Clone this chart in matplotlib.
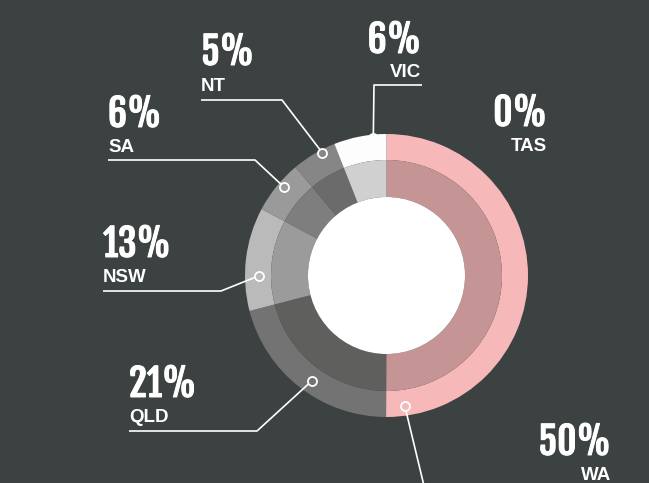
import numpy as np
import matplotlib
matplotlib.use("Agg")
import matplotlib.pyplot as plt
import matplotlib.patheffects as pe

# data, clockwise from the top
regions = ["WA", "QLD", "NSW", "SA", "NT", "VIC", "TAS"]
shares = [50.0, 20.9, 11.8, 6.1, 5.1, 6.0, 0.0]
pct_labels = ["50%", "21%", "13%", "6%", "5%", "6%", "0%"]

outer_colors = ["#f6b8b8", "#737373", "#bababa", "#9a9a9a", "#868686", "#fdfdfd", "#fdfdfd"]
inner_colors = ["#c59494", "#5f5f5d", "#9b9b9b", "#7e7e7e", "#6b6b6b", "#d0d0d0", "#d0d0d0"]

BG = "#3c4142"
W, H = 649, 483
CX, CY = 386.5, H - 275.5
R_OUT, R_MID, R_IN = 141.5, 115.5, 78.5

# label layout in image pixels (y measured from the top)
# marker angle, marker radius, leader points, text x, ha, number baseline, name baseline
layout = {
    "WA": (278, 132, [(425, 490)], 611, "right", 455, 480),
    "QLD": (234.7, 129, [(257, 431), (129, 431)], 129, "left", 397, 422),
    "NSW": (180.2, 128, [(221, 291), (103, 291)], 103, "left", 257, 282),
    "SA": (139.2, 136, [(255, 160), (108, 160)], 108, "left", 127, 152),
    "NT": (117.6, 138.5, [(282, 100), (201, 100)], 201, "left", 65, 91),
    "VIC": (95.5, 138, [(374, 85), (422, 85)], 421, "right", 53, 77),
    "TAS": (None, None, [], 547, "right", 126, 151),
}

fig = plt.figure(figsize=(W / 100, H / 100), dpi=100, facecolor=BG)
ax = fig.add_axes([0, 0, 1, 1])
ax.set_facecolor(BG)

ax.pie(shares, radius=R_OUT, center=(CX, CY), startangle=90, counterclock=False,
       colors=outer_colors, normalize=True,
       wedgeprops=dict(width=R_OUT - R_MID, linewidth=0))
ax.pie(shares, radius=R_MID, center=(CX, CY), startangle=90, counterclock=False,
       colors=inner_colors, normalize=True,
       wedgeprops=dict(width=R_MID - R_IN, linewidth=0))
ax.add_patch(plt.Circle((CX, CY), R_IN, color="white", lw=0))

num_font = ["Fjalla One", "Oswald", "DejaVu Sans"]
name_font = ["Liberation Sans", "DejaVu Sans"]
thicken = [pe.withStroke(linewidth=0.7, foreground="white")]

for i, reg in enumerate(regions):
    ang, rad, pts, tx, ha, nb, lb = layout[reg]
    if ang is not None:
        mx = CX + rad * np.cos(np.radians(ang))
        my = CY + rad * np.sin(np.radians(ang))
        xs = [mx] + [p[0] for p in pts]
        ys = [my] + [H - p[1] for p in pts]
        ax.plot(xs, ys, color="white", lw=1.2, solid_capstyle="butt", zorder=3)
        ax.plot(mx, my, "o", ms=6.5, mfc=outer_colors[i], mec="white", mew=1.3, zorder=4)
    ax.text(tx, H - nb, pct_labels[i], ha=ha, va="baseline", color="white",
            fontsize=27, family=num_font, path_effects=thicken)
    ax.text(tx, H - lb, reg, ha=ha, va="baseline", color="white",
            fontsize=13.5, fontweight="bold", family=name_font)

ax.set_xlim(0, W)
ax.set_ylim(0, H)
ax.set_aspect("equal")
ax.axis("off")

fig.savefig("out.png", dpi=100, facecolor=BG)
